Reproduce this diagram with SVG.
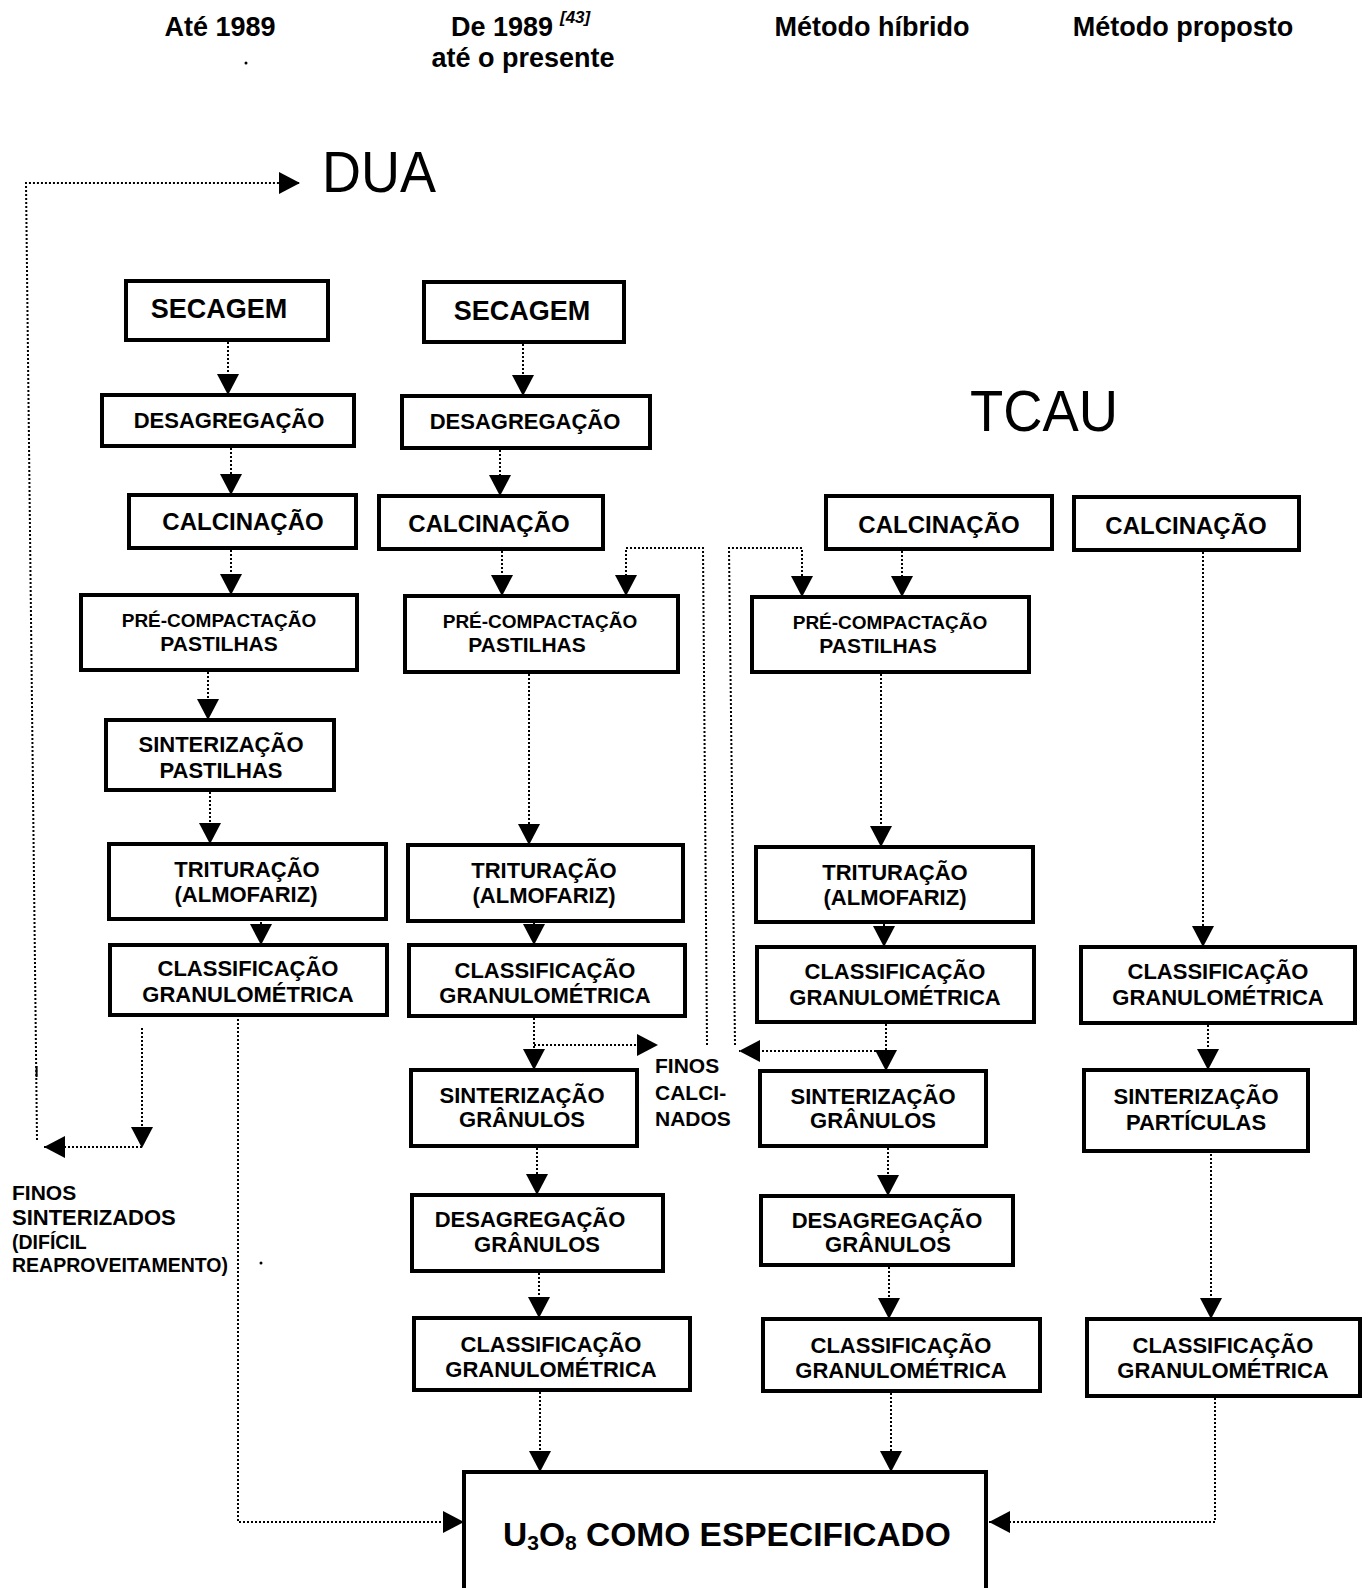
<svg xmlns="http://www.w3.org/2000/svg" width="1370" height="1588" viewBox="0 0 1370 1588">
<style>
text{font-family:"Liberation Sans",Arial,sans-serif;font-weight:bold;fill:#000}
.t{font-size:22px;text-anchor:middle}
.big{font-size:27px;text-anchor:middle}
.calc{font-size:24px;text-anchor:middle}
.pre{font-size:19px;text-anchor:middle}
.h{font-size:27px;text-anchor:middle}
.title{font-weight:normal;font-size:58px}
.box{fill:#fff;stroke:#000;stroke-width:4}
.c{fill:none;stroke:#000;stroke-width:2;stroke-dasharray:2 2}
.note{font-size:21px}
.small{font-size:19.5px}
</style>
<defs>
<marker id="ah" markerUnits="userSpaceOnUse" viewBox="0 0 21 22" markerWidth="21" markerHeight="22" refX="21" refY="11" orient="auto">
<path d="M0,0 L21,11 L0,22 z" fill="#000"/>
</marker>
</defs>

<g id="headers">
<text class="h" x="220" y="36">Até 1989</text>
<text x="451" y="36" style="font-size:27px">De 1989</text>
<text x="560" y="23" style="font-size:17px;font-style:italic">[43]</text>
<text class="h" x="523" y="67">até o presente</text>
<text class="h" x="872" y="36">Método híbrido</text>
<text class="h" x="1183" y="36">Método proposto</text>
<circle cx="246" cy="63" r="1.5"/>
</g>

<g id="labels">
<text class="title" x="322" y="192" textLength="114" lengthAdjust="spacingAndGlyphs">DUA</text>
<text class="title" x="970" y="431" textLength="148" lengthAdjust="spacingAndGlyphs">TCAU</text>
<g id="finos-calcinados">
<text class="note" x="655" y="1073">FINOS</text>
<text class="note" x="655" y="1100">CALCI-</text>
<text class="note" x="655" y="1126">NADOS</text>
</g>
<g id="finos-sinterizados">
<text class="note" x="12" y="1200">FINOS</text>
<text class="note" x="12" y="1225" style="font-size:22px">SINTERIZADOS</text>
<text class="small" x="12" y="1249">(DIFÍCIL</text>
<text class="small" x="12" y="1272">REAPROVEITAMENTO)</text>
</g>
<circle cx="261" cy="1263" r="1.5"/>
<circle cx="253" cy="663" r="1.3"/>
</g>

<g id="connectors">
<!-- column 1 -->
<path class="c" d="M228 342 V395" marker-end="url(#ah)"/>
<path class="c" d="M231 448 V495" marker-end="url(#ah)"/>
<path class="c" d="M231 550 V595" marker-end="url(#ah)"/>
<path class="c" d="M208 672 V720" marker-end="url(#ah)"/>
<path class="c" d="M210 792 V844" marker-end="url(#ah)"/>
<path class="c" d="M261 898 V945" marker-end="url(#ah)"/>
<path class="c" d="M142 1028 V1148" marker-end="url(#ah)"/>
<path class="c" d="M142 1147 H44" marker-end="url(#ah)"/>
<path class="c" d="M37 1140 L26 183 H300" marker-end="url(#ah)"/>
<path d="M36.6 1066 V1077" stroke="#000" stroke-width="2"/>
<path class="c" d="M238 1019 V1522 H464" marker-end="url(#ah)"/>
<!-- column 2 -->
<path class="c" d="M523 344 V396" marker-end="url(#ah)"/>
<path class="c" d="M500 450 V496" marker-end="url(#ah)"/>
<path class="c" d="M502 551 V596" marker-end="url(#ah)"/>
<path class="c" d="M707 1045 L703 548 H626 V596" marker-end="url(#ah)"/>
<path class="c" d="M529 674 V845" marker-end="url(#ah)"/>
<path class="c" d="M534 898 V945" marker-end="url(#ah)"/>
<path class="c" d="M534 1018 V1070" marker-end="url(#ah)"/>
<path class="c" d="M534 1045 H658" marker-end="url(#ah)"/>
<path class="c" d="M537 1148 V1195" marker-end="url(#ah)"/>
<path class="c" d="M539 1273 V1318" marker-end="url(#ah)"/>
<path class="c" d="M540 1392 V1472" marker-end="url(#ah)"/>
<!-- column 3 -->
<path class="c" d="M902 551 V597" marker-end="url(#ah)"/>
<path class="c" d="M735 1045 L729 548 H802 V597" marker-end="url(#ah)"/>
<path class="c" d="M881 674 V847" marker-end="url(#ah)"/>
<path class="c" d="M884 900 V947" marker-end="url(#ah)"/>
<path class="c" d="M886 1024 V1071" marker-end="url(#ah)"/>
<path class="c" d="M884 1051 H739" marker-end="url(#ah)"/>
<path class="c" d="M888 1148 V1196" marker-end="url(#ah)"/>
<path class="c" d="M889 1267 V1319" marker-end="url(#ah)"/>
<path class="c" d="M891 1393 V1472" marker-end="url(#ah)"/>
<!-- column 4 -->
<path class="c" d="M1203 552 V947" marker-end="url(#ah)"/>
<path class="c" d="M1208 1025 V1070" marker-end="url(#ah)"/>
<path class="c" d="M1211 1142 V1319" marker-end="url(#ah)"/>
<path class="c" d="M1215 1398 V1522 H989" marker-end="url(#ah)"/>
</g>

<!-- Column 1: Até 1989 -->
<g id="c1-secagem"><rect class="box" x="126" y="281" width="202" height="59"/><text class="big" x="219" y="318">SECAGEM</text></g>
<g id="c1-desagregacao"><rect class="box" x="102" y="395" width="252" height="51"/><text class="t" x="229" y="428">DESAGREGAÇÃO</text></g>
<g id="c1-calcinacao"><rect class="box" x="129" y="495" width="227" height="53"/><text class="calc" x="243" y="530">CALCINAÇÃO</text></g>
<g id="c1-precompactacao"><rect class="box" x="81" y="595" width="276" height="75"/><text class="pre" x="219" y="627">PRÉ-COMPACTAÇÃO</text><text class="pre" style="font-size:21px" x="219" y="651">PASTILHAS</text></g>
<g id="c1-sinterizacao"><rect class="box" x="106" y="720" width="228" height="70"/><text class="t" x="221" y="752">SINTERIZAÇÃO</text><text class="t" x="221" y="778">PASTILHAS</text></g>
<g id="c1-trituracao"><rect class="box" x="109" y="844" width="277" height="75"/><text class="t" x="247" y="877">TRITURAÇÃO</text><text class="t" x="246" y="902">(ALMOFARIZ)</text></g>
<g id="c1-classificacao"><rect class="box" x="110" y="945" width="277" height="70"/><text class="t" x="248" y="976">CLASSIFICAÇÃO</text><text class="t" x="248" y="1002">GRANULOMÉTRICA</text></g>

<!-- Column 2: De 1989 -->
<g id="c2-secagem"><rect class="box" x="424" y="282" width="200" height="60"/><text class="big" x="522" y="320">SECAGEM</text></g>
<g id="c2-desagregacao"><rect class="box" x="402" y="396" width="248" height="52"/><text class="t" x="525" y="429">DESAGREGAÇÃO</text></g>
<g id="c2-calcinacao"><rect class="box" x="379" y="496" width="224" height="53"/><text class="calc" x="489" y="532">CALCINAÇÃO</text></g>
<g id="c2-precompactacao"><rect class="box" x="405" y="596" width="273" height="76"/><text class="pre" x="540" y="628">PRÉ-COMPACTAÇÃO</text><text class="pre" style="font-size:21px" x="527" y="652">PASTILHAS</text></g>
<g id="c2-trituracao"><rect class="box" x="408" y="845" width="275" height="76"/><text class="t" x="544" y="878">TRITURAÇÃO</text><text class="t" x="544" y="903">(ALMOFARIZ)</text></g>
<g id="c2-classificacao"><rect class="box" x="409" y="945" width="276" height="71"/><text class="t" x="545" y="978">CLASSIFICAÇÃO</text><text class="t" x="545" y="1003">GRANULOMÉTRICA</text></g>
<g id="c2-sinterizacao"><rect class="box" x="411" y="1070" width="226" height="76"/><text class="t" x="522" y="1103">SINTERIZAÇÃO</text><text class="t" x="522" y="1127">GRÂNULOS</text></g>
<g id="c2-desagregacao-granulos"><rect class="box" x="412" y="1195" width="251" height="76"/><text class="t" x="530" y="1227">DESAGREGAÇÃO</text><text class="t" x="537" y="1252">GRÂNULOS</text></g>
<g id="c2-classificacao-final"><rect class="box" x="414" y="1318" width="276" height="72"/><text class="t" x="551" y="1352">CLASSIFICAÇÃO</text><text class="t" x="551" y="1377">GRANULOMÉTRICA</text></g>

<!-- Column 3: Método híbrido -->
<g id="c3-calcinacao"><rect class="box" x="826" y="496" width="226" height="53"/><text class="calc" x="939" y="533">CALCINAÇÃO</text></g>
<g id="c3-precompactacao"><rect class="box" x="752" y="597" width="277" height="75"/><text class="pre" x="890" y="629">PRÉ-COMPACTAÇÃO</text><text class="pre" style="font-size:21px" x="878" y="653">PASTILHAS</text></g>
<g id="c3-trituracao"><rect class="box" x="756" y="847" width="277" height="75"/><text class="t" x="895" y="880">TRITURAÇÃO</text><text class="t" x="895" y="905">(ALMOFARIZ)</text></g>
<g id="c3-classificacao"><rect class="box" x="757" y="947" width="277" height="75"/><text class="t" x="895" y="979">CLASSIFICAÇÃO</text><text class="t" x="895" y="1005">GRANULOMÉTRICA</text></g>
<g id="c3-sinterizacao"><rect class="box" x="760" y="1071" width="226" height="75"/><text class="t" x="873" y="1104">SINTERIZAÇÃO</text><text class="t" x="873" y="1128">GRÂNULOS</text></g>
<g id="c3-desagregacao-granulos"><rect class="box" x="761" y="1196" width="252" height="69"/><text class="t" x="887" y="1228">DESAGREGAÇÃO</text><text class="t" x="888" y="1252">GRÂNULOS</text></g>
<g id="c3-classificacao-final"><rect class="box" x="763" y="1319" width="277" height="72"/><text class="t" x="901" y="1353">CLASSIFICAÇÃO</text><text class="t" x="901" y="1378">GRANULOMÉTRICA</text></g>

<!-- Column 4: Método proposto -->
<g id="c4-calcinacao"><rect class="box" x="1074" y="497" width="225" height="53"/><text class="calc" x="1186" y="534">CALCINAÇÃO</text></g>
<g id="c4-classificacao"><rect class="box" x="1081" y="947" width="274" height="76"/><text class="t" x="1218" y="979">CLASSIFICAÇÃO</text><text class="t" x="1218" y="1005">GRANULOMÉTRICA</text></g>
<g id="c4-sinterizacao"><rect class="box" x="1084" y="1070" width="224" height="81"/><text class="t" x="1196" y="1104">SINTERIZAÇÃO</text><text class="t" x="1196" y="1130">PARTÍCULAS</text></g>
<g id="c4-classificacao-final"><rect class="box" x="1087" y="1319" width="273" height="77"/><text class="t" x="1223" y="1353">CLASSIFICAÇÃO</text><text class="t" x="1223" y="1378">GRANULOMÉTRICA</text></g>

<!-- Final product -->
<g id="u3o8"><rect class="box" x="464" y="1472" width="522" height="140"/><text x="727" y="1546" style="font-size:33.5px;text-anchor:middle">U<tspan font-size="21" dy="4">3</tspan><tspan dy="-4">O</tspan><tspan font-size="21" dy="4">8</tspan><tspan dy="-4"> COMO ESPECIFICADO</tspan></text></g>
</svg>
